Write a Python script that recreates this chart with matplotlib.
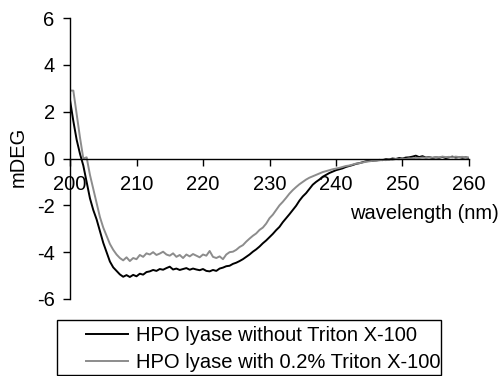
import numpy as np
import matplotlib
matplotlib.use("Agg")
import matplotlib.pyplot as plt
from matplotlib.patches import Rectangle

plt.rcParams["font.family"] = ["Liberation Sans", "DejaVu Sans"]
plt.rcParams["axes.unicode_minus"] = False

# wavelength grid (nm), 0.5 nm step
wavelength = np.arange(200.0, 260.01, 0.5)

# CD signal (mDEG)
mdeg_without = [
    2.5, 1.6, 0.8, 0.2, -0.3, -1.0, -1.7, -2.2, -2.6, -3.1,
    -3.6, -4.0, -4.4, -4.65, -4.8, -4.95, -5.05, -4.98, -5.06, -4.97,
    -5.03, -4.92, -4.96, -4.85, -4.82, -4.76, -4.8, -4.72, -4.75, -4.68,
    -4.62, -4.74, -4.7, -4.76, -4.72, -4.68, -4.75, -4.7, -4.74, -4.77,
    -4.72, -4.8, -4.82, -4.76, -4.8, -4.7, -4.66, -4.6, -4.58, -4.5,
    -4.45, -4.38, -4.3, -4.2, -4.1, -3.98, -3.88, -3.76, -3.62, -3.5,
    -3.36, -3.22, -3.06, -2.92, -2.72, -2.55, -2.38, -2.2, -2.02, -1.8,
    -1.62, -1.48, -1.3, -1.12, -1.0, -0.9, -0.78, -0.7, -0.62, -0.56,
    -0.5, -0.46, -0.42, -0.36, -0.32, -0.28, -0.23, -0.2, -0.16, -0.12,
    -0.1, -0.1, -0.08, -0.06, -0.07, -0.03, -0.04, 0.0, -0.02, 0.02,
    0.0, 0.04, 0.05, 0.08, 0.12, 0.06, 0.1, 0.04, 0.06, 0.02,
    0.05, 0.03, 0.07, 0.02, 0.05, 0.08, 0.04, 0.06, 0.03, 0.05,
    0.02,
]
mdeg_triton = [
    2.9, 2.9, 1.9, 0.9, 0.0, 0.05, -0.7, -1.3, -1.9, -2.5,
    -2.95, -3.3, -3.65, -3.9, -4.1, -4.25, -4.35, -4.22, -4.38, -4.25,
    -4.3, -4.12, -4.2, -4.05, -4.1, -4.0, -4.12, -4.06, -3.98, -4.1,
    -4.15, -4.05, -4.2, -4.12, -4.25, -4.1, -4.18, -4.08, -4.15, -4.22,
    -4.1, -4.15, -3.95, -4.2, -4.25, -4.18, -4.3, -4.1, -4.0, -3.98,
    -3.9, -3.78, -3.7, -3.55, -3.42, -3.3, -3.2, -3.05, -2.95, -2.78,
    -2.55, -2.4, -2.2, -2.0, -1.85, -1.68, -1.5, -1.35, -1.22, -1.1,
    -1.0, -0.9, -0.82, -0.76, -0.7, -0.64, -0.58, -0.54, -0.5, -0.46,
    -0.43, -0.4, -0.36, -0.32, -0.3, -0.26, -0.22, -0.2, -0.17, -0.14,
    -0.12, -0.1, -0.1, -0.08, -0.06, -0.07, -0.04, -0.05, -0.02, -0.03,
    0.0, -0.02, 0.01, 0.0, 0.03, 0.02, 0.04, 0.03, 0.05, 0.04,
    0.06, 0.05, 0.08, 0.06, 0.07, 0.05, 0.08, 0.06, 0.07, 0.05,
    0.04,
]
labels = ["HPO lyase without Triton X-100", "HPO lyase with 0.2% Triton X-100"]
colors = ["#000000", "#8c8c8c"]

W, H = 502, 376
fig = plt.figure(figsize=(W / 100, H / 100), dpi=100)
ax = fig.add_axes([70 / W, 1 - 299 / H, (469 - 70) / W, (299 - 18) / H])

lines = []
for y, lab, c in zip([mdeg_without, mdeg_triton], labels, colors):
    ln, = ax.plot(wavelength, y, color=c, lw=1.4, label=lab)
    lines.append(ln)

ax.set_xlim(200, 260)
ax.set_ylim(-6, 6)
ax.set_xticks(np.arange(200, 261, 10))
ax.set_yticks(np.arange(-6, 7, 2))
ax.spines["top"].set_visible(False)
ax.spines["right"].set_visible(False)
ax.spines["bottom"].set_position(("data", 0))
for s in ("left", "bottom"):
    ax.spines[s].set_linewidth(1.0)
ax.tick_params(direction="out", length=5, width=1.0, labelsize=14.5)
ax.tick_params(axis="y", pad=6)
ax.tick_params(axis="x", pad=7)

fig.text(424 / W, 1 - 213 / H, "wavelength (nm)", ha="center", va="center", fontsize=14.5)
fig.text(18 / W, 1 - 157 / H, "mDEG", ha="center", va="center", rotation=90, fontsize=14.5)

# legend box like the original (wide frame, text on the right)
fig.patches.append(Rectangle((57 / W, 1 - 375 / H), (441 - 57) / W, (375 - 320) / H,
                             transform=fig.transFigure, fill=False, ec="black", lw=1.0))
fig.legend(lines, labels, loc="upper left", bbox_to_anchor=(82 / W, 1 - 322 / H),
           frameon=False, fontsize=14.5, handlelength=2.1, handletextpad=0.4,
           labelspacing=0.4, borderpad=0.2, borderaxespad=0)

fig.savefig("out.png", dpi=100)
